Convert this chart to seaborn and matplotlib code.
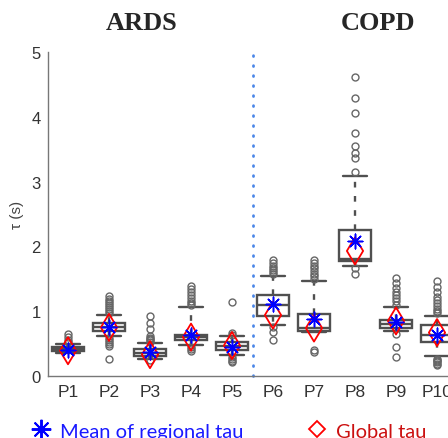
import matplotlib
matplotlib.use("Agg")
import matplotlib.pyplot as plt
from matplotlib.lines import Line2D
import seaborn as sns
import pandas as pd

patients = ["P1", "P2", "P3", "P4", "P5", "P6", "P7", "P8", "P9", "P10"]

# box statistics (seconds)
q1 = [0.39, 0.70, 0.31, 0.56, 0.40, 0.93, 0.70, 1.78, 0.74, 0.53]
med = [0.41, 0.75, 0.36, 0.60, 0.46, 1.10, 0.735, 1.80, 0.80, 0.63]
q3 = [0.44, 0.82, 0.42, 0.64, 0.53, 1.25, 0.96, 2.26, 0.86, 0.78]
whislo = [0.36, 0.62, 0.27, 0.48, 0.32, 0.79, 0.68, 1.70, 0.70, 0.31]
whishi = [0.49, 0.94, 0.51, 1.06, 0.61, 1.54, 1.46, 3.08, 1.06, 0.93]
outliers = [
    [0.53, 0.56, 0.60, 0.65],
    [0.97, 1.00, 1.03, 1.06, 1.09, 1.12, 1.16, 1.19, 1.23, 0.58, 0.55, 0.52, 0.49, 0.47, 0.26],
    [0.53, 0.55, 0.57, 0.59, 0.62, 0.72, 0.82, 0.93, 0.25],
    [1.10, 1.12, 1.15, 1.20, 1.25, 1.30, 1.35, 1.39, 0.45, 0.42, 0.39],
    [0.63, 0.66, 1.14, 0.29, 0.26, 0.23, 0.21],
    [1.57, 1.60, 1.63, 1.66, 1.70, 1.74, 1.79, 0.76, 0.68, 0.55],
    [1.50, 1.54, 1.58, 1.62, 1.66, 1.70, 1.74, 1.79, 0.37, 0.40],
    [3.15, 3.36, 3.44, 3.55, 3.75, 4.06, 4.29, 4.62, 1.66, 1.57],
    [1.10, 1.15, 1.20, 1.25, 1.30, 1.36, 1.44, 1.52, 0.65, 0.44, 0.30],
    [0.97, 1.00, 1.04, 1.08, 1.12, 1.17, 1.22, 1.30, 1.38, 1.46, 0.27, 0.25, 0.23, 0.21, 0.19, 0.17],
]
mean_regional_tau = [0.40, 0.76, 0.37, 0.64, 0.45, 1.11, 0.88, 2.09, 0.84, 0.63]
global_tau = [0.39, 0.75, 0.33, 0.60, 0.47, 0.94, 0.74, 1.93, 0.85, 0.67]

sns.set_theme(style="white")
plt.rcParams["font.family"] = ["Liberation Sans", "DejaVu Sans"]

fig = plt.figure(figsize=(4.48, 4.39), dpi=100)
ax = fig.add_axes([47.5 / 448, 62 / 439, 410 / 448, 324 / 439])

box_col = "#505050"
positions = list(range(1, len(patients) + 1))
stats = [
    {"med": m, "q1": a, "q3": b, "whislo": lo, "whishi": hi, "fliers": f}
    for m, a, b, lo, hi, f in zip(med, q1, q3, whislo, whishi, outliers)
]
ax.bxp(stats, positions=positions, widths=0.8, showfliers=True, patch_artist=True,
       boxprops=dict(facecolor="white", edgecolor=box_col, linewidth=1.7),
       medianprops=dict(color=box_col, linewidth=1.7),
       whiskerprops=dict(color=box_col, linewidth=1.7, linestyle=(0, (2.4, 3.6))),
       capprops=dict(color=box_col, linewidth=1.7),
       capwidths=0.58,
       flierprops=dict(marker="o", markersize=5, markerfacecolor="none",
                       markeredgecolor="#666666", markeredgewidth=1.0))

df = pd.DataFrame({"pos": positions, "mean": mean_regional_tau, "glob": global_tau})
sns.scatterplot(data=df, x="pos", y="glob", marker="d", s=190, facecolors="none",
                edgecolors="#ff0000", linewidth=1.3, ax=ax, zorder=5)
sns.scatterplot(data=df, x="pos", y="mean", marker=(8, 2, 0), s=110, color="#0000ff",
                edgecolors="#0000ff", linewidth=1.1, ax=ax, zorder=6)

ax.axvline(5.5, ymin=0, ymax=1.01, color="#4a86e8", linewidth=2,
           linestyle=(0, (0.3, 3.3)), dash_capstyle="round", clip_on=False)

ax.set_xlim(0.5, 10.5)
ax.set_ylim(0, 5)
ax.set_xticks(positions)
ax.set_xticklabels(patients)
ax.set_yticks([0, 1, 2, 3, 4, 5])
ax.tick_params(axis="x", direction="in", length=3, color="#777777", labelsize=12.5,
               labelcolor="#333333", pad=6)
ax.tick_params(axis="y", direction="in", length=3, color="#777777", labelsize=12,
               labelcolor="#333333", pad=5)
ax.set_xlabel("")
ax.set_ylabel("τ (s)", fontsize=11, color="#444444", labelpad=5)
for side in ["top", "right"]:
    ax.spines[side].set_visible(False)
for side in ["left", "bottom"]:
    ax.spines[side].set_color("#777777")
    ax.spines[side].set_linewidth(1.0)

ax.text(2.8, 5.45, "ARDS", ha="center", va="center", fontsize=19, fontweight="bold",
        family="Liberation Serif")
ax.text(8.57, 5.45, "COPD", ha="center", va="center", fontsize=19, fontweight="bold",
        family="Liberation Serif")

handles = [
    Line2D([], [], marker=(8, 2, 0), color="#0000ff", markersize=14, markeredgewidth=1.4, linestyle="none"),
    Line2D([], [], marker="D", color="#ff0000", markerfacecolor="none", markersize=8.5,
           markeredgewidth=1.3, linestyle="none"),
]
leg = fig.legend(handles, ["Mean of regional tau", "Global tau"], ncol=2, frameon=False,
                 loc="center left", bbox_to_anchor=(0.025, 0.016), prop={"family": "Lato", "size": 14.5},
                 handletextpad=0.3, columnspacing=3.1, handlelength=1.2)
leg.get_texts()[0].set_color("#1a1aff")
leg.get_texts()[1].set_color("#cc1111")

fig.savefig("out.png", dpi=100)
